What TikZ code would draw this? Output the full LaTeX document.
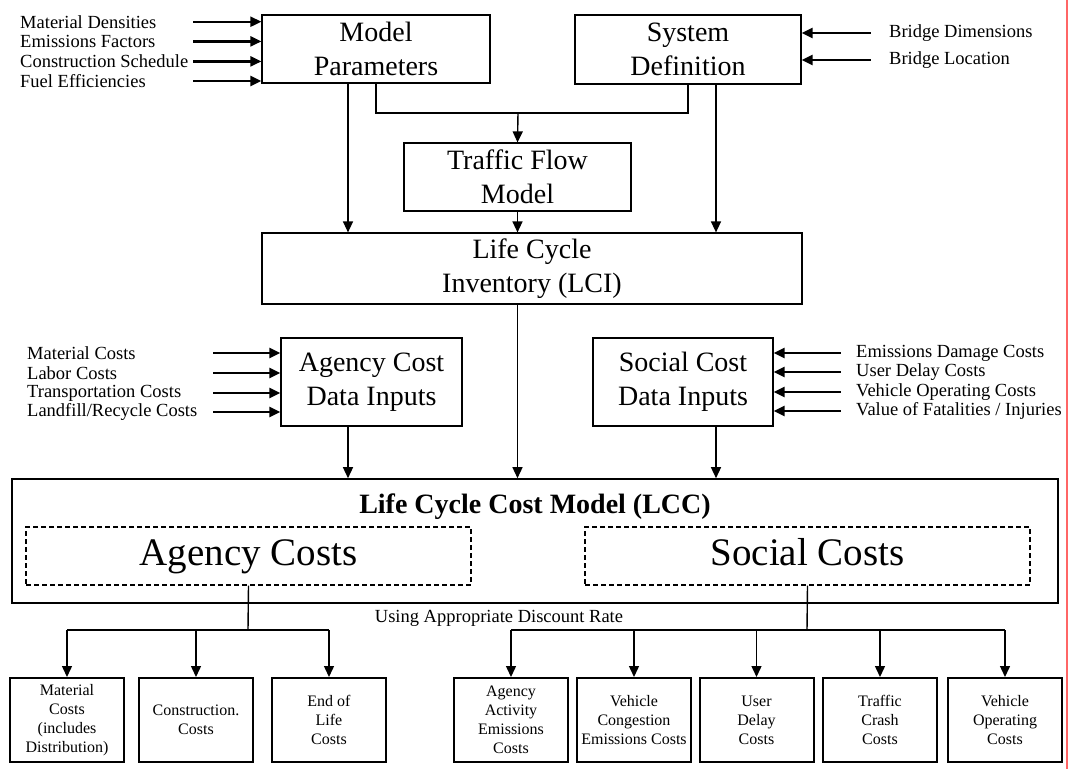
\documentclass[tikz,border=0pt]{standalone}
\usepackage{fontspec}
\setmainfont{Liberation Serif}
\usetikzlibrary{arrows.meta,calc}
\begin{document}
\begin{tikzpicture}[x=1pt,y=-1pt,
  box/.style={draw, line width=1.2pt, align=center, inner sep=0pt, font=\fontsize{28}{34}\selectfont},
  inlabel/.style={anchor=west, inner sep=0pt, font=\fontsize{18.5}{20}\selectfont},
  arr/.style={-{Triangle[length=11pt,width=10pt]}, line width=1.4pt},
  inarr/.style={-{Triangle[length=11pt,width=10pt]}, line width=2.2pt},
  leaf/.style={draw, line width=2pt, align=center, inner sep=0pt, minimum width=114, minimum height=84, font=\fontsize{16}{19}\selectfont},
  dashbox/.style={draw, line width=1.2pt, dash pattern=on 5pt off 3pt, inner sep=0pt, minimum width=445, minimum height=58, text height=27pt, text depth=9pt, font=\fontsize{39}{44}\selectfont},
  line/.style={line width=1.4pt}
]
\useasboundingbox (0,0) rectangle (1073,769);
\fill[white] (0,0) rectangle (1073,769);

% top boxes
\node[box, minimum width=228, minimum height=68] (mp) at (376,49) {Model\\Parameters};
\node[box, minimum width=226, minimum height=69] (sd) at (688,49.5) {System\\Definition};
\node[box, minimum width=227, minimum height=68] (tf) at (517.5,177) {Traffic Flow\\Model};
\node[box, minimum width=540, minimum height=71] (lci) at (532,268.5) {Life Cycle\\Inventory (LCI)};

% left input labels
\node[inlabel] (l1) at (20,21.7) {Material Densities};
\node[inlabel] (l2) at (20,41.4) {Emissions Factors};
\node[inlabel] (l3) at (20,61.4) {Construction Schedule};
\node[inlabel] (l4) at (20,81) {Fuel Efficiencies};
\foreach \n in {l1,l2,l3,l4}
  \draw[inarr] ([xshift=-68pt]mp.west |- \n) -- (mp.west |- \n);

% right input labels
\node[inlabel] (r1) at (889,33) {Bridge Dimensions};
\node[inlabel] (r2) at (889,60) {Bridge Location};
\foreach \n in {r1,r2}
  \draw[inarr] ([xshift=69pt]sd.east |- \n) -- (sd.east |- \n);

% tee into traffic flow
\coordinate (tee) at (518,113);
\draw[line] (mp.south) -- (mp.south |- tee) -- (sd.south |- tee) -- (sd.south);
\draw[arr] (tee) -- (tf.north);

% arrows into LCI
\coordinate (xa) at (348,0);
\coordinate (xb) at (716,0);
\draw[arr] (xa |- mp.south) -- (xa |- lci.north);
\draw[arr] (tf.south) -- (tf.south |- lci.north);
\draw[arr] (xb |- sd.south) -- (xb |- lci.north);

% cost data inputs
\node[box, minimum width=181, minimum height=88] (ac) at (371.5,382) {Agency Cost\\Data Inputs};
\node[box, minimum width=180, minimum height=88] (sc) at (683,382) {Social Cost\\Data Inputs};

\node[inlabel] (a1) at (27,353) {Material Costs};
\node[inlabel] (a2) at (27,373) {Labor Costs};
\node[inlabel] (a3) at (27,393) {Transportation Costs};
\node[inlabel] (a4) at (27,412) {Landfill/Recycle Costs};
\foreach \n in {a1,a2,a3,a4}
  \draw[inarr] ([xshift=-67pt]ac.west |- \n) -- (ac.west |- \n);

\node[inlabel] (s1) at (856,353) {Emissions Damage Costs};
\node[inlabel] (s2) at (856,372) {User Delay Costs};
\node[inlabel] (s3) at (856,392) {Vehicle Operating Costs};
\node[inlabel] (s4) at (856,411) {Value of Fatalities / Injuries};
\foreach \n in {s1,s2,s3,s4}
  \draw[inarr] ([xshift=67pt]sc.east |- \n) -- (sc.east |- \n);

% LCC
\node[draw, line width=1.6pt, inner sep=0pt, minimum width=1046, minimum height=124] (lcc) at (535,541) {};
\node[font=\bfseries\fontsize{28}{32}\selectfont, inner sep=0pt] (lcct) at (535,507) {Life Cycle Cost Model (LCC)};
\node[dashbox] (agc) at (248.5,556) {Agency Costs};
\node[dashbox] (soc) at (807.5,556) {Social Costs};

\draw[arr] (xa |- ac.south) -- (xa |- lcc.north);
\draw[arr] (lci.south -| tf.south) -- (lcc.north -| tf.south);
\draw[arr] (xb |- sc.south) -- (xb |- lcc.north);

\node[anchor=base, inner sep=0pt, font=\fontsize{18.5}{20}\selectfont] (rate) at (499,622) {Using Appropriate Discount Rate};

% leaf boxes
\node[leaf] (m1) at (67,720) {Material\\Costs\\(includes\\Distribution)};
\node[leaf] (m2) at (196,720) {Construction.\\Costs};
\node[leaf] (m3) at (329,720) {End of\\Life\\Costs};
\node[leaf] (n1) at (511,720) {Agency\\Activity\\Emissions\\Costs};
\node[leaf] (n2) at (634,720) {Vehicle\\Congestion\\Emissions Costs};
\node[leaf] (n3) at (756.5,720) {User\\Delay\\Costs};
\node[leaf] (n4) at (880,720) {Traffic\\Crash\\Costs};
\node[leaf] (n5) at (1005,720) {Vehicle\\Operating\\Costs};

\coordinate (bl) at (248,630);
\coordinate (br) at (807,630);
\draw[line] (agc.south) -- (bl);
\draw[line] (m1.north |- bl) -- (m3.north |- bl);
\foreach \n in {m1,m2,m3} \draw[arr] (\n.north |- bl) -- (\n.north);
\draw[line] (soc.south) -- (br);
\draw[line] (n1.north |- br) -- (n5.north |- br);
\foreach \n in {n1,n2,n3,n4,n5} \draw[arr] (\n.north |- br) -- (\n.north);

% red page edge line
\draw[red!60, line width=1.2pt] (1067,0) -- (1067,769);
\end{tikzpicture}
\end{document}
